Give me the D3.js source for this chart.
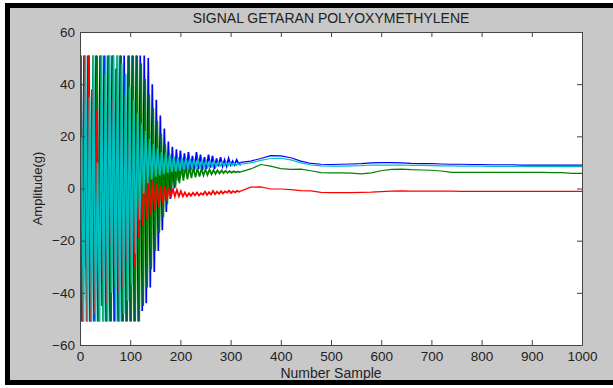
<!DOCTYPE html>
<html>
<head>
<meta charset="utf-8">
<script src="https://cdn.jsdelivr.net/npm/d3@7"></script>
<style>
body { margin: 0; background: #fff; }
svg text { font-family: "Liberation Sans", Arial, sans-serif; fill: #222; }
</style>
</head>
<body>
<div id="chart"></div>
<script>
// samples 0..316 are read every 4 samples (offset per series), then every 20 samples from 320 to 1000
var headStep = 4, tailStart = 320, tailStep = 20;
var xTicks = [0,100,200,300,400,500,600,700,800,900,1000];
var yTicks = [-60,-40,-20,0,20,40,60];

var blueHead = [51,-51,51,-30,51,-51,38,-51,51,-51,51,-45,51,-51,51,-51,51,-51,46,-51,
	51,-51,51,-51,51,-51,51,-51,51,-51,51,-47,51,-44,50,-38,40,-32,34,-24,
	28,-16,23,-9,18,-4,16,0,15,3,14.5,5,13.5,6,14,6.5,12.5,7,14,7.5,
	13,7,12,7.5,13,8,12.5,7.5,11.5,8.5,12,8.5,11,8.5,11.5,9,10.5,9,11,9.5];
var greenHead = [51,-51,30,-51,51,-51,51,-20,51,-51,51,-51,44,-51,51,-51,51,-38,51,-51,
	51,-51,36,-51,51,-51,51,-51,51,-51,48,-45,42,-38,36,-31,31,-24,26,-17,
	21,-11,17,-6,13.5,-2,11.5,0.5,10,2,9,3,8.5,3.5,8.2,4,8,4.3,7.8,4.6,
	7.6,5,7.4,5.2,7.3,5.4,7.1,5.6,7,5.8,6.9,5.9,6.8,6,6.7,6.1,6.6,6.2,6.5,6.3];
var redHead = [51,-51,51,-51,51,-51,38,-48,30,-42,25,-35,18,-44,28,-22,34,-30,15,-40,
	22,-38,12,-28,18,-25,10,-30,8,-19,6,-14,5,-12,4,-10,3,-8,2,-7,
	1,-6,1,-4.5,0.5,-3.5,0,-3,-0.5,-3,-1,-3,-1.5,-3,-1.8,-2.8,-1.6,-2.6,-1.5,-2.7,
	-1.8,-2.4,-1.2,-2.5,-1.4,-2.3,-0.9,-2.2,-1.2,-2,-1,-1.9,-1.1,-1.6,-0.8,-1.7,-1,-1.5,-0.9,-1.3];
var cyanHead = [20,-51,51,-51,35,-51,51,-51,10,-51,51,-51,51,-51,51,-40,51,-51,51,-51,
	48,-48,44,-43,39,-37,34,-25,29,-12,25,-2,22,2,19,3.5,17,4.5,15.5,5,
	14,5.5,13.5,6,12.8,6.3,12.3,6.5,12,6.8,11.8,7.2,11.6,7.5,11.4,7.8,11.2,8,11,8.2,
	10.8,8.3,10.6,8.4,10.4,8.5,10.3,8.6,10.2,8.7,10.1,8.8,10,8.8,9.9,8.9,9.8,8.9,9.6,9];

var blueTail = [10,10.5,11.5,12.6,12.5,11.8,10.5,9.6,9.3,9.2,9.3,9.4,9.5,9.8,9.9,9.9,9.8,9.6,
	9.5,9.5,9.4,9.3,9.3,9.2,9.2,9.1,9.1,9.1,9.0,9.0,9.0,9.0,9.0,9.0,9.0];
var cyanTail = [9.3,9.8,10.8,11.5,11.6,11,9.8,9,8.7,8.6,8.6,8.7,8.8,9,9,9,9,8.9,
	8.9,8.8,8.7,8.7,8.6,8.6,8.6,8.5,8.5,8.5,8.5,8.4,8.4,8.4,8.4,8.4,8.4];
var greenTail = [6.4,7.5,9.2,8.6,7.6,7.3,7.4,6.8,6.1,6,6,5.9,5.6,6,6.8,7.3,7.4,7.2,
	7.1,7,6.7,6.2,6.2,6.2,6.2,6.2,6.2,6.2,6.2,6.2,6.2,6.1,6.1,5.8,5.8];
var redTail = [-1,0.5,0.6,-0.2,-0.2,-0.4,-0.8,-0.9,-1.5,-1.6,-1.6,-1.6,-1.5,-1.4,-1.2,-1,-0.9,-1,
	-1,-1,-1,-1,-1.1,-1.1,-1.1,-1.1,-1.1,-1.1,-1.1,-1.1,-1.1,-1.1,-1.1,-1.1,-1.1];

var series = [
	{ name: "blue", color: "#0000ff", offset: 0, head: blueHead, tail: blueTail },
	{ name: "green", color: "#008000", offset: 2, head: greenHead, tail: greenTail },
	{ name: "red", color: "#ff0000", offset: 1, head: redHead, tail: redTail },
	{ name: "cyan", color: "#00bfbf", offset: 3, head: cyanHead, tail: cyanTail }
];

function headPoints(s){
	var pts = s.head.map(function(v, i){ return [s.offset + i*headStep, v]; });
	pts.push([tailStart, s.tail[0]]);
	return pts;
}
function tailPoints(s){
	return s.tail.map(function(v, i){ return [tailStart + i*tailStep, v]; });
}

drawChart("chart");

function drawChart(container){
	var W = 613, H = 388;
	var margin = { top: 32, right: 31, bottom: 43, left: 80 },
		width = W - margin.left - margin.right,
		height = H - margin.top - margin.bottom;

	var svg = d3.select("#"+container).append("svg")
		.attr("width", W).attr("height", H);

	// figure frame
	svg.append("rect").attr("x", 5).attr("y", 3).attr("width", W-5).attr("height", 382).attr("fill", "#000");
	svg.append("rect").attr("x", 10).attr("y", 8).attr("width", W-10).attr("height", 372).attr("fill", "#c8c8c8");

	var g = svg.append("g").attr("transform", "translate(" + margin.left + "," + margin.top + ")");
	g.append("rect").attr("width", width).attr("height", height).attr("fill", "#fff");

	var x = d3.scaleLinear().domain([0, 1000]).range([0, width]);
	var y = d3.scaleLinear().domain([-60, 60]).range([height, 0]);

	g.append("clipPath").attr("id", "clip").append("rect").attr("width", width).attr("height", height);

	var line = d3.line().x(function(d){ return x(d[0]); }).y(function(d){ return y(d[1]); });
	var lines = g.append("g").attr("clip-path", "url(#clip)");
	var sg = lines.selectAll("g.series").data(series).enter().append("g").attr("class", "series");
	sg.append("path")
		.attr("d", function(d){ return line(tailPoints(d)); })
		.attr("fill", "none")
		.attr("stroke", function(d){ return d.color; })
		.attr("stroke-width", 1.2);
	sg.append("path")
		.attr("d", function(d){ return line(headPoints(d)); })
		.attr("fill", "none")
		.attr("stroke", function(d){ return d.color; })
		.attr("stroke-width", 1.7);

	var axisColor = "#444";
	var fs = "13.5px";
	var xAxis = g.append("g").attr("transform", "translate(0," + height + ")")
		.call(d3.axisBottom(x).tickValues(xTicks).tickFormat(d3.format("d")).tickSizeInner(-5).tickSizeOuter(0).tickPadding(6));
	var yAxis = g.append("g")
		.call(d3.axisLeft(y).tickValues(yTicks).tickFormat(d3.format("d")).tickSizeInner(-5).tickSizeOuter(0).tickPadding(5));
	var xTop = g.append("g")
		.call(d3.axisTop(x).tickValues(xTicks).tickSizeInner(-5).tickSizeOuter(0).tickFormat(""));
	var yRight = g.append("g").attr("transform", "translate(" + width + ",0)")
		.call(d3.axisRight(y).tickValues(yTicks).tickSizeInner(-5).tickSizeOuter(0).tickFormat(""));
	[xAxis, yAxis, xTop, yRight].forEach(function(a){
		a.selectAll("path, line").attr("stroke", axisColor);
		a.selectAll("text").attr("fill", "#222").style("font-size", fs)
			.style("font-family", "Liberation Sans, Arial, sans-serif");
	});

	svg.append("text").attr("x", margin.left + width/2).attr("y", 23)
		.attr("text-anchor", "middle").style("font-size", "14px")
		.text("SIGNAL GETARAN POLYOXYMETHYLENE");
	svg.append("text").attr("x", margin.left + width/2).attr("y", 378)
		.attr("text-anchor", "middle").style("font-size", "14px")
		.text("Number Sample");
	svg.append("text").attr("transform", "translate(42," + (margin.top + height/2) + ") rotate(-90)")
		.attr("text-anchor", "middle").style("font-size", "13px")
		.text("Amplitude(g)");
}
</script>
</body>
</html>
